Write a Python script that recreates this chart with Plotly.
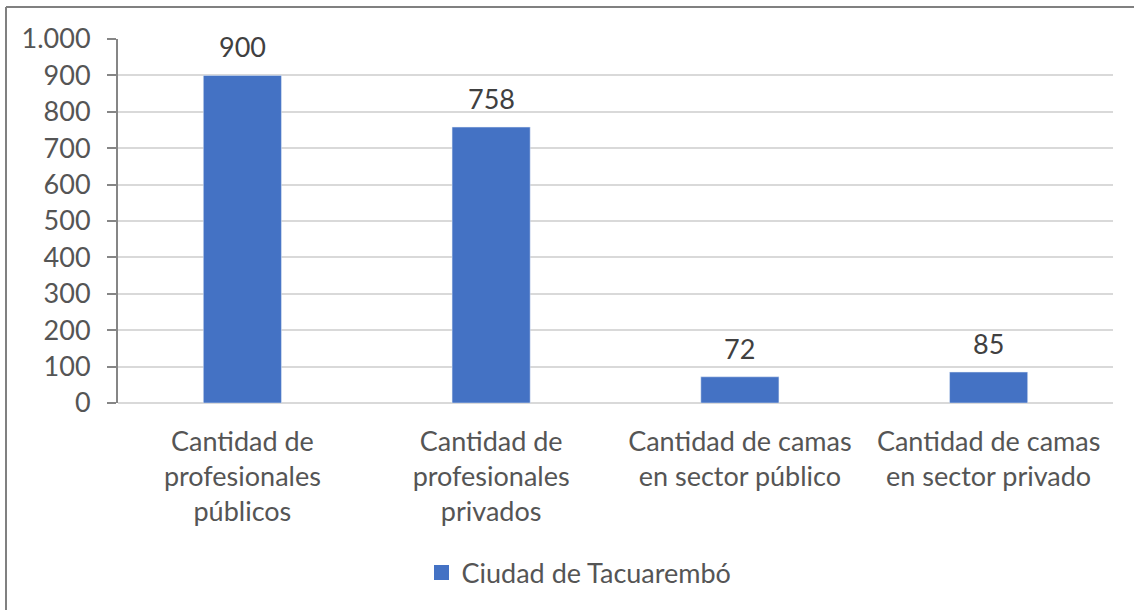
import plotly.graph_objects as go

categories = [
    "Cantidad de<br>profesionales<br>públicos",
    "Cantidad de<br>profesionales<br>privados",
    "Cantidad de camas<br>en sector público",
    "Cantidad de camas<br>en sector privado",
]
values = [900, 758, 72, 85]
series_name = "Ciudad de Tacuarembó"
y_ticks = [0, 100, 200, 300, 400, 500, 600, 700, 800, 900, 1000]

FONT = "Lato, Calibri, Carlito, sans-serif"
TXT = "#555555"
BAR = "#4472C4"

fig = go.Figure()
fig.add_trace(go.Bar(
    x=categories, y=values, name=series_name,
    marker=dict(color=BAR),
    showlegend=False,
))
# legend entry with a larger square swatch
fig.add_trace(go.Scatter(
    x=[None], y=[None], mode="markers", name=series_name,
    marker=dict(symbol="square", size=15, color=BAR),
    showlegend=True,
))
for c, v in zip(categories, values):
    fig.add_annotation(x=c, y=v, text=str(v), showarrow=False, yanchor="bottom",
                       yshift=10, font=dict(family=FONT, size=27, color="#404040"))

W, H = 1134, 610
L, R, T, B = 118, 21, 39, 207
pw = W - L - R
ph = H - T - B

def px(x):
    return (x - L) / pw

def py(y):
    return (H - B - y) / ph

fig.update_layout(
    width=W, height=H,
    margin=dict(l=L, r=R, t=T, b=B, autoexpand=False),
    paper_bgcolor="white", plot_bgcolor="white",
    separators=",.",
    bargap=0.686,
    font=dict(family=FONT, color=TXT),
    legend=dict(orientation="h", x=px(579), xanchor="center", y=py(573), yanchor="middle",
                itemwidth=30, font=dict(family=FONT, size=27, color=TXT)),
    xaxis=dict(showline=False, ticks="", tickfont=dict(family=FONT, size=27, color=TXT),
               showgrid=False, ticklabelstandoff=20),
    yaxis=dict(range=[0, 1000], tickvals=y_ticks, tickformat=",d",
               showline=True, linecolor="#868686", linewidth=2,
               ticks="outside", ticklen=9, tickwidth=2, tickcolor="#868686",
               gridcolor="#D9D9D9", gridwidth=2,
               zeroline=True, zerolinecolor="#D9D9D9", zerolinewidth=2,
               tickfont=dict(family=FONT, size=27, color=TXT), ticklabelstandoff=11),
    shapes=[
        dict(type="line", xref="paper", yref="paper", x0=px(6), x1=px(1140), y0=py(7), y1=py(7),
             line=dict(color="#808080", width=2)),
        dict(type="line", xref="paper", yref="paper", x0=px(6), x1=px(6), y0=py(7), y1=py(620),
             line=dict(color="#808080", width=2)),
    ],
)

fig.write_html("out.html", config={"displayModeBar": False},
               post_script="document.body.style.margin='0';document.body.style.padding='0';")
